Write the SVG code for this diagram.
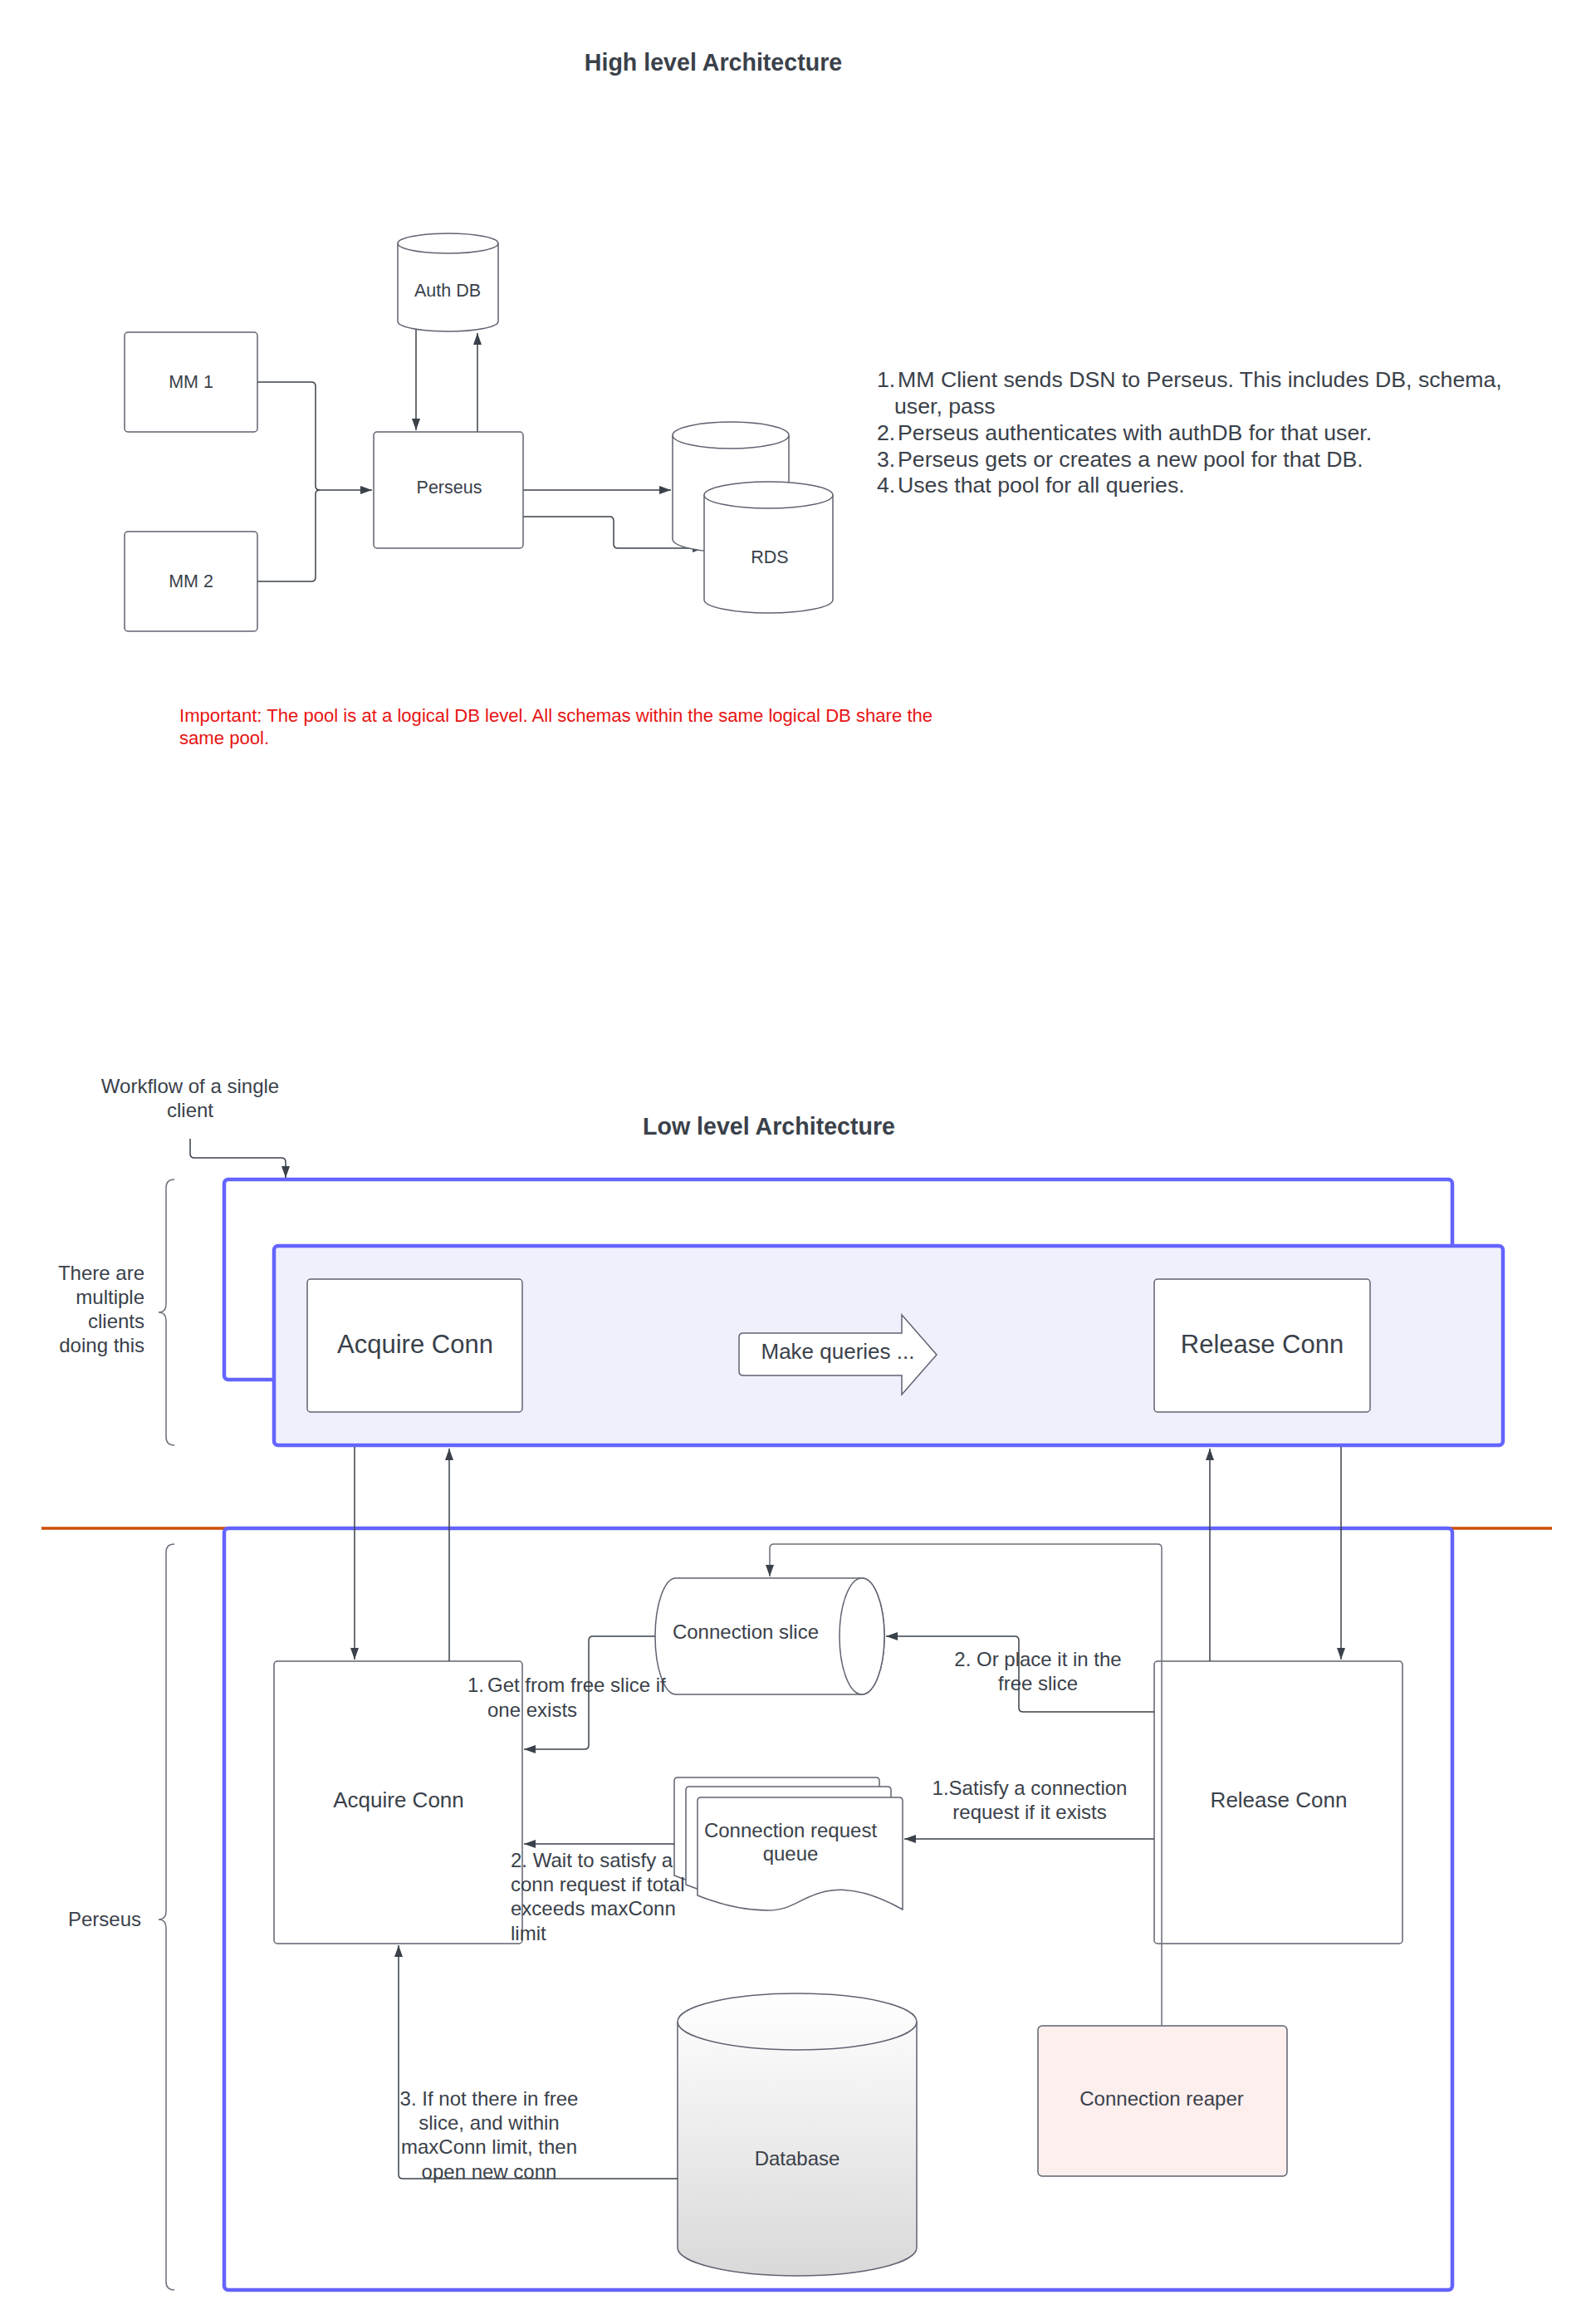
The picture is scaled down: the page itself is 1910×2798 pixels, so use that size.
<svg xmlns="http://www.w3.org/2000/svg" width="1910" height="2798" viewBox="0 0 1910 2798">
<style>
text{font-family:"Liberation Sans",Arial,sans-serif;fill:#3a414a}
.t{font-size:24px}
.ts{font-size:21.5px}
.h{font-size:28.6px;font-weight:bold}
.n{fill:#fff;stroke:#5f6370;stroke-width:1.5}
.c{fill:none;stroke:#3a414a;stroke-width:1.5}
.cg{fill:none;stroke:#6b6f78;stroke-width:1.5}
.blue{stroke:#6464ff;stroke-width:4.5}
.m{text-anchor:middle}
</style>
<defs>
<marker id="ah" markerUnits="userSpaceOnUse" markerWidth="16" markerHeight="12" refX="14" refY="5" orient="auto">
<path d="M0,0 L14,5 L0,10 z" fill="#3a414a"/>
</marker>
<linearGradient id="dbg" x1="0" y1="0" x2="0" y2="1">
<stop offset="0" stop-color="#ffffff"/>
<stop offset="1" stop-color="#d9d9d9"/>
</linearGradient>
</defs>

<!-- Titles and notes -->
<text class="h m" x="859" y="85">High level Architecture</text>
<text style="font-size:26.7px" x="1056" y="466">1.<tspan x="1081">MM Client sends DSN to Perseus. This includes DB, schema,</tspan><tspan x="1077" y="498">user, pass</tspan><tspan x="1056" y="530">2.</tspan><tspan x="1081" y="530">Perseus authenticates with authDB for that user.</tspan><tspan x="1056" y="562">3.</tspan><tspan x="1081" y="562">Perseus gets or creates a new pool for that DB.</tspan><tspan x="1056" y="593">4.</tspan><tspan x="1081" y="593">Uses that pool for all queries.</tspan></text>
<text style="font-size:22.1px;fill:#e81313" x="216" y="869">Important: The pool is at a logical DB level. All schemas within the same logical DB share the<tspan x="216" y="896">same pool.</tspan></text>

<!-- High level connectors -->
<g id="hl-connectors">
<path class="c" d="M310,460 H375 Q380,460 380,465 V585 Q380,590 385,590 H448" marker-end="url(#ah)"/>
<path class="c" d="M310,700 H375 Q380,700 380,695 V595 Q380,590 385,590"/>
<path class="c" d="M501,397 V518" marker-end="url(#ah)"/>
<path class="c" d="M575,520 V401" marker-end="url(#ah)"/>
<path class="c" d="M630,590 H808" marker-end="url(#ah)"/>
<path class="c" d="M630,622 H734 Q739,622 739,627 V655 Q739,660 744,660 H848" marker-end="url(#ah)"/>
</g>

<!-- High level nodes -->
<g id="mm1"><rect class="n" x="150" y="400" width="160" height="120" rx="4"/><text class="ts m" x="230" y="467">MM 1</text></g>
<g id="mm2"><rect class="n" x="150" y="640" width="160" height="120" rx="4"/><text class="ts m" x="230" y="707">MM 2</text></g>
<g id="perseus"><rect class="n" x="450" y="520" width="180" height="140" rx="4"/><text class="ts m" x="541" y="594">Perseus</text></g>
<g id="authdb">
<path class="n" d="M479,293 A60.5,12 0 0 1 600,293 V387 A60.5,12 0 0 1 479,387 Z"/>
<path class="n" d="M479,293 A60.5,12 0 0 0 600,293" fill="none"/>
<text class="ts m" x="539" y="357">Auth DB</text>
</g>
<g id="rds-back">
<path class="n" d="M810,524 A70,16 0 0 1 950,524 V649 A70,16 0 0 1 810,649 Z"/>
<path class="n" d="M810,524 A70,16 0 0 0 950,524" fill="none"/>
</g>
<g id="rds">
<path class="n" d="M848,596 A77.5,16 0 0 1 1003,596 V722 A77.5,16 0 0 1 848,722 Z"/>
<path class="n" d="M848,596 A77.5,16 0 0 0 1003,596" fill="none"/>
<text class="ts m" x="927" y="678">RDS</text>
</g>

<!-- Low level -->
<text class="h m" x="926" y="1366">Low level Architecture</text>
<text class="t m" x="229" y="1316">Workflow of a single<tspan x="229" y="1345">client</tspan></text>

<g id="brace-clients">
<path class="cg" d="M210,1420 Q200,1420 200,1430 V1570 Q200,1580 191,1580 Q200,1580 200,1590 V1730 Q200,1740 210,1740"/>
<text class="t" text-anchor="end" x="174" y="1541">There are<tspan x="174" y="1570">multiple</tspan><tspan x="174" y="1599">clients</tspan><tspan x="174" y="1628">doing this</tspan></text>
</g>

<g id="client-back"><rect class="blue" fill="#fff" x="270" y="1420" width="1479" height="241" rx="5"/></g>
<g id="client-front">
<rect class="blue" fill="#f0f0fd" x="330" y="1500" width="1480" height="240" rx="5"/>
</g>
<g id="acquire-top"><rect class="n" x="370" y="1540" width="259" height="160" rx="4"/><text class="m" style="font-size:31px" x="500" y="1629">Acquire Conn</text></g>
<g id="make-queries">
<path class="n" d="M890,1610 Q890,1605 895,1605 H1086 V1583 L1128,1631 L1086,1679 V1656 H895 Q890,1656 890,1651 Z"/>
<text class="m" style="font-size:26px" x="1009" y="1636">Make queries ...</text>
</g>
<g id="release-top"><rect class="n" x="1390" y="1540" width="260" height="160" rx="4"/><text class="m" style="font-size:31px" x="1520" y="1629">Release Conn</text></g>

<line x1="50" y1="1840" x2="1869" y2="1840" stroke="#cc4e00" stroke-width="3.5"/>

<g id="brace-perseus">
<path class="cg" d="M210,1859 Q200,1859 200,1869 V2301 Q200,2311 191,2311 Q200,2311 200,2321 V2747 Q200,2757 210,2757"/>
<text class="t" text-anchor="end" x="170" y="2319">Perseus</text>
</g>
<g id="perseus-frame"><rect class="blue" fill="#fff" x="270" y="1840" width="1479" height="917" rx="5"/></g>

<g id="acquire"><rect class="n" x="330" y="2000" width="299" height="340" rx="4"/><text class="m" style="font-size:26px" x="480" y="2176">Acquire Conn</text></g>
<g id="release"><rect class="n" x="1390" y="2000" width="299" height="340" rx="4"/><text class="m" style="font-size:26px" x="1540" y="2176">Release Conn</text></g>

<g id="connection-slice">
<path class="n" d="M814,1900 H1038 A27,70 0 0 1 1038,2040 H814 A25,70 0 0 1 814,1900 Z"/>
<ellipse class="n" cx="1038" cy="1970" rx="27" ry="70" fill="none"/>
<text class="t m" x="898" y="1973">Connection slice</text>
</g>

<g id="request-queue">
<path class="n" transform="translate(-28,-24)" d="M840,2168 Q840,2164 844,2164 H1083 Q1087,2164 1087,2168 V2299 C1050,2278 1020,2272 995,2277 C965,2283 955,2300 925,2300 C895,2300 865,2292 840,2282 Z"/>
<path class="n" transform="translate(-14,-13)" d="M840,2168 Q840,2164 844,2164 H1083 Q1087,2164 1087,2168 V2299 C1050,2278 1020,2272 995,2277 C965,2283 955,2300 925,2300 C895,2300 865,2292 840,2282 Z"/>
<path class="n" d="M840,2168 Q840,2164 844,2164 H1083 Q1087,2164 1087,2168 V2299 C1050,2278 1020,2272 995,2277 C965,2283 955,2300 925,2300 C895,2300 865,2292 840,2282 Z"/>
<text class="t m" x="952" y="2212">Connection request<tspan x="952" y="2240">queue</tspan></text>
</g>

<g id="database">
<path d="M816,2434 A144,34 0 0 1 1104,2434 V2706 A144,34 0 0 1 816,2706 Z" fill="url(#dbg)" stroke="#5f6370" stroke-width="1.5"/>
<path d="M816,2434 A144,34 0 0 0 1104,2434" fill="none" stroke="#5f6370" stroke-width="1.5"/>
<text class="t m" x="960" y="2607">Database</text>
</g>

<g id="reaper"><rect x="1250" y="2439" width="300" height="181" rx="5" fill="#fdefee" stroke="#5f6370" stroke-width="1.5"/><text class="t m" x="1399" y="2535">Connection reaper</text></g>

<!-- Low level connectors -->
<g id="ll-connectors">
<path class="c" d="M229,1371 V1389 Q229,1394 234,1394 H339 Q344,1394 344,1399 V1418" marker-end="url(#ah)"/>
<path class="c" d="M427,1742 V1998" marker-end="url(#ah)"/>
<path class="c" d="M541,2000 V1744" marker-end="url(#ah)"/>
<path class="c" d="M1457,2000 V1744" marker-end="url(#ah)"/>
<path class="c" d="M1615,1742 V1998" marker-end="url(#ah)"/>
<path class="c" d="M789,1970 H714 Q709,1970 709,1975 V2101 Q709,2106 704,2106 H631" marker-end="url(#ah)"/>
<path class="c" d="M1390,2061 H1232 Q1227,2061 1227,2056 V1975 Q1227,1970 1222,1970 H1067" marker-end="url(#ah)"/>
<path class="c" d="M1390,2214 H1089" marker-end="url(#ah)"/>
<path class="c" d="M812,2220 H631" marker-end="url(#ah)"/>
<path class="c" d="M816,2623 H485 Q480,2623 480,2618 V2342" marker-end="url(#ah)"/>
<path class="cg" d="M1399,2439 V1864 Q1399,1859 1394,1859 H932 Q927,1859 927,1864 V1898" marker-end="url(#ah)"/>
</g>

<!-- Connector labels -->
<text class="t" x="563" y="2037">1.<tspan x="587">Get from free slice if</tspan><tspan x="587" y="2067">one exists</tspan></text>
<text class="t m" x="1250" y="2006">2. Or place it in the<tspan x="1250" y="2035">free slice</tspan></text>
<text class="t m" x="1240" y="2161">1.Satisfy a connection<tspan x="1240" y="2190">request if it exists</tspan></text>
<text class="t" x="615" y="2248">2. Wait to satisfy a<tspan x="615" y="2277">conn request if total</tspan><tspan x="615" y="2306">exceeds maxConn</tspan><tspan x="615" y="2336">limit</tspan></text>
<text class="t m" x="589" y="2535">3. If not there in free<tspan x="589" y="2564">slice, and within</tspan><tspan x="589" y="2593">maxConn limit, then</tspan><tspan x="589" y="2623">open new conn</tspan></text>
</svg>
